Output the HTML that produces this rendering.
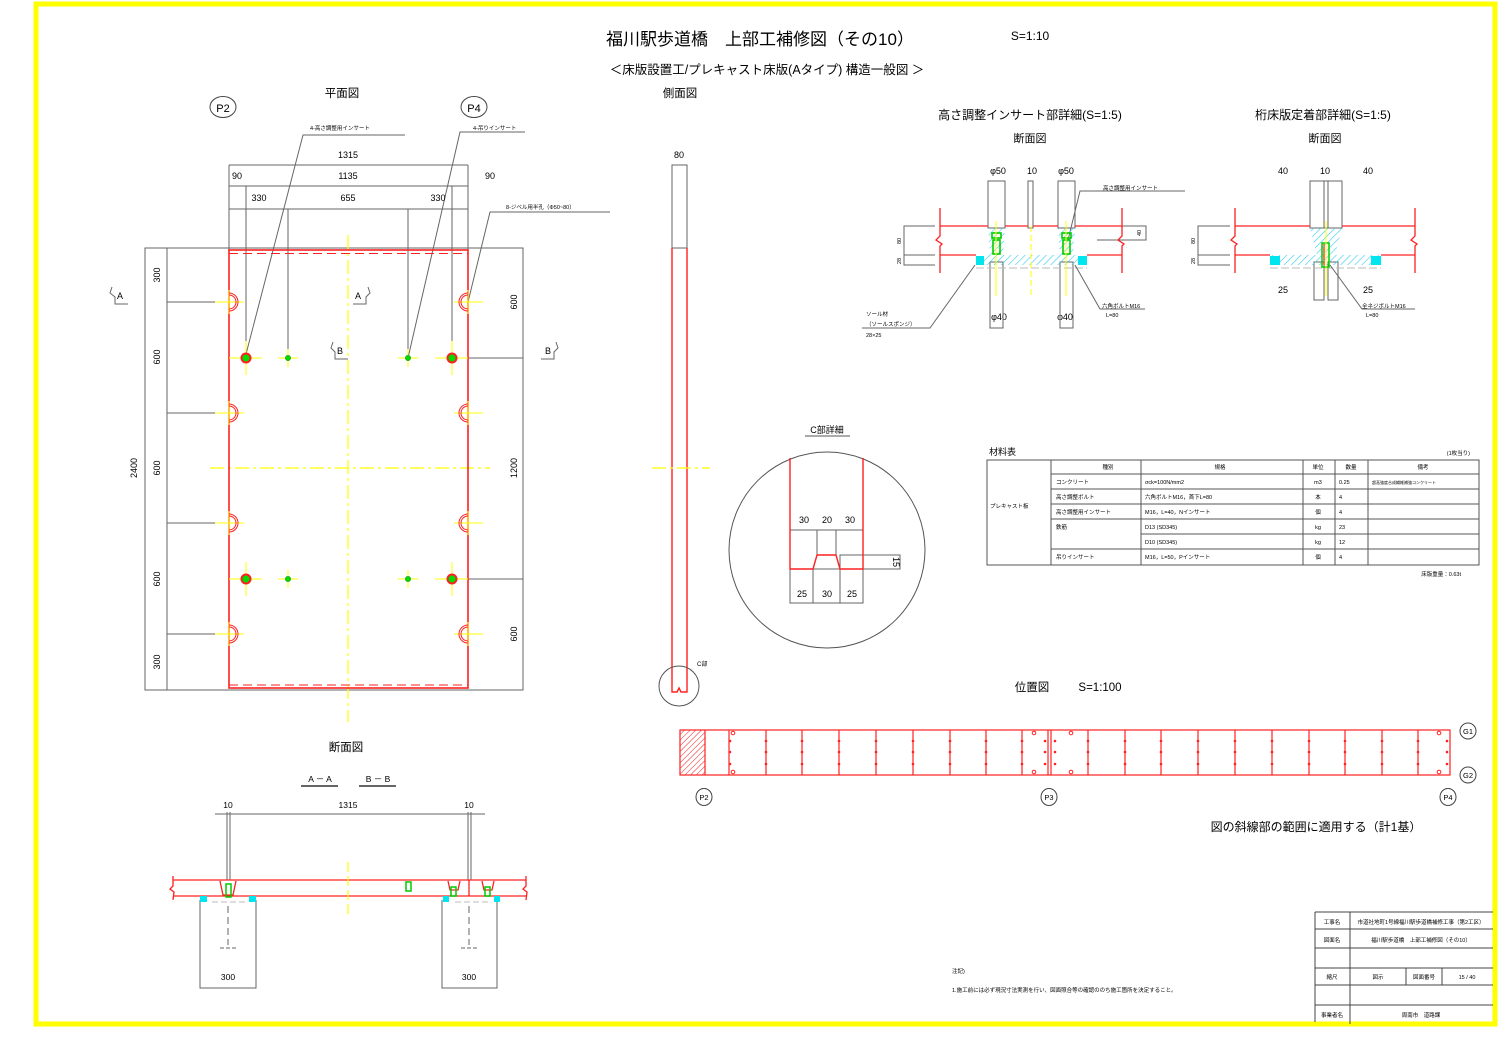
<!DOCTYPE html>
<html><head><meta charset="utf-8"><style>
html,body{margin:0;padding:0;background:#fff}
svg{display:block}
text{font-family:"Liberation Sans","Noto Sans CJK JP",sans-serif;fill:#000}
</style></head><body>
<svg width="1500" height="1061" viewBox="0 0 1500 1061" xmlns="http://www.w3.org/2000/svg">
<defs>
<pattern id="hc" width="5" height="5" patternUnits="userSpaceOnUse" patternTransform="rotate(45)"><line x1="0" y1="0" x2="0" y2="5" stroke="#33ccee" stroke-width="1.2"/></pattern>
<pattern id="hr" width="4" height="4" patternUnits="userSpaceOnUse" patternTransform="rotate(45)"><line x1="0" y1="0" x2="0" y2="4" stroke="#ee2222" stroke-width="1"/></pattern>
</defs>
<rect x="0" y="0" width="1500" height="1061" fill="#fff"/>
<rect x="36" y="4" width="1459" height="1020" fill="none" stroke="#ffff00" stroke-width="5"/>

<text x="760" y="45" font-size="17" text-anchor="middle">福川駅歩道橋　上部工補修図（その10）</text>
<text x="1030" y="40" font-size="12" text-anchor="middle">S=1:10</text>
<text x="767" y="74" font-size="12.5" text-anchor="middle">＜床版設置工/プレキャスト床版(Aタイプ) 構造一般図 ＞</text>

<text x="342" y="97" font-size="11.5" text-anchor="middle">平面図</text>
<ellipse cx="223" cy="107" rx="13" ry="10.5" fill="none" stroke="#444"/>
<text x="223" y="112" font-size="11" text-anchor="middle">P2</text>
<ellipse cx="474" cy="107" rx="13" ry="10.5" fill="none" stroke="#444"/>
<text x="474" y="112" font-size="11" text-anchor="middle">P4</text>
<g stroke="#666" stroke-width="1" fill="none">
<rect x="145" y="248" width="378" height="442"/>
<line x1="167" y1="248" x2="167" y2="690"/>
<line x1="229" y1="165" x2="229" y2="250"/><line x1="468" y1="165" x2="468" y2="250"/>
<line x1="229" y1="165" x2="468" y2="165"/>
<line x1="229" y1="186" x2="468" y2="186"/>
<line x1="229" y1="209" x2="468" y2="209"/>
<line x1="246" y1="186" x2="246" y2="358"/><line x1="452" y1="186" x2="452" y2="358"/>
<line x1="288" y1="209" x2="288" y2="358"/><line x1="408" y1="209" x2="408" y2="358"/>
<line x1="167" y1="302" x2="215" y2="302"/><line x1="167" y1="413" x2="215" y2="413"/>
<line x1="167" y1="523" x2="215" y2="523"/><line x1="167" y1="634" x2="215" y2="634"/>
<line x1="468" y1="358" x2="523" y2="358"/><line x1="468" y1="579" x2="523" y2="579"/>
<polyline points="405,135 303,135 245,358"/>
<polyline points="525,132 460,132 408,358"/>
<polyline points="610,212 490,212 468,302"/>
<polyline points="112,287 110,293 115,297 115,304 128,304"/>
<polyline points="368,287 370,293 366,297 366,304 353,304"/>
<polyline points="333,342 331,348 335,352 335,359 348,359"/>
<polyline points="556,342 558,348 554,352 554,359 541,359"/>
</g>
<g font-size="9" text-anchor="middle">
<text x="348" y="158">1315</text>
<text x="348" y="179">1135</text>
<text x="237" y="179">90</text><text x="490" y="179">90</text>
<text x="259" y="201">330</text><text x="348" y="201">655</text><text x="438" y="201">330</text>
<text x="120" y="299">A</text><text x="358" y="299">A</text>
<text x="340" y="354">B</text><text x="548" y="354">B</text>
<text transform="translate(160,275) rotate(-90)">300</text>
<text transform="translate(160,357) rotate(-90)">600</text>
<text transform="translate(160,468) rotate(-90)">600</text>
<text transform="translate(160,579) rotate(-90)">600</text>
<text transform="translate(160,662) rotate(-90)">300</text>
<text transform="translate(137,468) rotate(-90)">2400</text>
<text transform="translate(517,302) rotate(-90)">600</text>
<text transform="translate(517,468) rotate(-90)">1200</text>
<text transform="translate(517,634) rotate(-90)">600</text>
</g>
<g font-size="5.5"><text x="310" y="130">4-高さ調整用インサート</text><text x="473" y="130">4-吊りインサート</text><text x="506" y="209">8-ジベル用半孔（Φ50~80）</text></g>
<g stroke="#ffff00" stroke-width="1.2" stroke-dasharray="14,4,3,4">
<line x1="348" y1="235" x2="348" y2="722"/>
<line x1="210" y1="468" x2="490" y2="468"/>
</g>
<g stroke="#ff2020" fill="none">
<rect x="229" y="250" width="239" height="438" stroke-width="1.6"/>
<line x1="229" y1="253.5" x2="468" y2="253.5" stroke-dasharray="9,5"/>
<line x1="229" y1="685" x2="468" y2="685" stroke-dasharray="9,5"/>
</g>
<g id="hh">
<g stroke="#ffff00" stroke-width="1"><line x1="215" y1="302" x2="244" y2="302"/><line x1="229" y1="290" x2="229" y2="314"/></g>
<path d="M229,295 A7,7 0 0 1 229,309" fill="none" stroke="#ff2020"/>
<path d="M229,293 A9,9 0 0 1 229,311" fill="none" stroke="#ff2020"/>
</g>
<use href="#hh" y="111"/><use href="#hh" y="221"/><use href="#hh" y="332"/>
<g id="hhr">
<g stroke="#ffff00" stroke-width="1"><line x1="454" y1="302" x2="483" y2="302"/><line x1="468" y1="290" x2="468" y2="314"/></g>
<path d="M468,295 A7,7 0 0 0 468,309" fill="none" stroke="#ff2020"/>
<path d="M468,293 A9,9 0 0 0 468,311" fill="none" stroke="#ff2020"/>
</g>
<use href="#hhr" y="111"/><use href="#hhr" y="221"/><use href="#hhr" y="332"/>
<g id="ins">
<g stroke="#ffff00" stroke-width="1"><line x1="229" y1="358" x2="262" y2="358"/><line x1="246" y1="341" x2="246" y2="375"/>
<line x1="278" y1="358" x2="298" y2="358"/><line x1="288" y1="349" x2="288" y2="367"/>
<line x1="398" y1="358" x2="418" y2="358"/><line x1="408" y1="349" x2="408" y2="367"/>
<line x1="435" y1="358" x2="468" y2="358"/><line x1="452" y1="341" x2="452" y2="375"/></g>
<circle cx="246" cy="358" r="4.5" fill="#00dd00" stroke="#ff2020" stroke-width="2"/>
<circle cx="452" cy="358" r="4.5" fill="#00dd00" stroke="#ff2020" stroke-width="2"/>
<circle cx="288" cy="358" r="2.5" fill="#00dd00" stroke="#22aa22"/>
<circle cx="408" cy="358" r="2.5" fill="#00dd00" stroke="#22aa22"/>
</g>
<use href="#ins" y="221"/>

<text x="680" y="97" font-size="11.5" text-anchor="middle">側面図</text>
<text x="679" y="158" font-size="9" text-anchor="middle">80</text>
<rect x="672" y="165" width="15" height="83" fill="none" stroke="#666"/>
<g stroke="#ff2020" stroke-width="1.4" fill="none">
<polyline points="672,248 672,692 677,692 679,688 681,692 687,692 687,248"/>
</g>
<line x1="652" y1="468" x2="710" y2="468" stroke="#ffff00" stroke-width="1.2" stroke-dasharray="14,4,3,4"/>
<circle cx="679" cy="686" r="20" fill="none" stroke="#555"/>
<text x="697" y="666" font-size="6">C部</text>

<text x="827" y="433" font-size="9" text-anchor="middle">C部詳細</text>
<line x1="805" y1="436" x2="850" y2="436" stroke="#555"/>
<circle cx="827" cy="550" r="98" fill="none" stroke="#555"/>
<g stroke="#666" fill="none">
<rect x="790" y="530" width="73" height="39"/>
<line x1="817" y1="530" x2="817" y2="555"/><line x1="836" y1="530" x2="836" y2="555"/>
<rect x="840" y="555" width="60" height="14"/>
<rect x="790" y="569" width="73" height="34"/>
<line x1="813" y1="569" x2="813" y2="603"/><line x1="840" y1="569" x2="840" y2="603"/>
</g>
<polyline points="790,458 790,569 813,569 817,555 836,555 840,569 863,569 863,458" fill="none" stroke="#ff2020" stroke-width="1.4"/>
<g font-size="9" text-anchor="middle">
<text x="804" y="523">30</text><text x="827" y="523">20</text><text x="850" y="523">30</text>
<text x="802" y="597">25</text><text x="827" y="597">30</text><text x="852" y="597">25</text>
<text transform="translate(893,562) rotate(90)">15</text>
</g>

<text x="1030" y="119" font-size="12" text-anchor="middle">高さ調整インサート部詳細(S=1:5)</text>
<text x="1030" y="142" font-size="11" text-anchor="middle">断面図</text>
<g font-size="9" text-anchor="middle"><text x="998" y="174">φ50</text><text x="1032" y="174">10</text><text x="1066" y="174">φ50</text>
<text x="999" y="320">φ40</text><text x="1065" y="320">φ40</text></g>
<g stroke="#666" fill="none">
<rect x="988" y="181" width="17" height="47"/><rect x="990" y="262" width="13" height="66"/>
<rect x="1058" y="181" width="17" height="47"/><rect x="1060" y="262" width="13" height="66"/>
<rect x="1028" y="181" width="5" height="47"/>
<polyline points="935,226 904,226 904,265 935,265"/><line x1="904" y1="255" x2="935" y2="255"/>
<polyline points="1097,226 1146,226 1146,240 1097,240"/>
<line x1="976" y1="268" x2="1087" y2="268" stroke="#bbb" stroke-dasharray="8,3"/>
<polyline points="1185,191 1080,191 1068,240"/>
<polyline points="1145,309 1100,309 1075,265"/>
<polyline points="862,328 930,328 975,265"/>
</g>
<g stroke="#ff2020" stroke-width="1.3" fill="none">
<line x1="940" y1="226" x2="988" y2="226"/><line x1="1005" y1="226" x2="1028" y2="226"/><line x1="1033" y1="226" x2="1058" y2="226"/><line x1="1075" y1="226" x2="1122" y2="226"/>
<line x1="940" y1="255" x2="976" y2="255"/><line x1="1087" y1="255" x2="1122" y2="255"/>
<polyline points="940,208 940,236 936,240 942,244 940,246 940,273"/>
<polyline points="1122,208 1122,236 1118,240 1124,244 1122,246 1122,273"/>
</g>
<polygon points="988,228 1005,228 1003,255 990,255" fill="url(#hc)"/>
<polygon points="1058,228 1075,228 1073,255 1060,255" fill="url(#hc)"/>
<rect x="984" y="255" width="94" height="10" fill="url(#hc)"/>
<rect x="976" y="256" width="8" height="9" fill="#00e5ee"/><rect x="1078" y="256" width="9" height="9" fill="#00e5ee"/>
<g stroke="#00cc00" stroke-width="1.6" fill="none"><rect x="992" y="233" width="9" height="5"/><rect x="993" y="240" width="7" height="14"/>
<rect x="1062" y="233" width="9" height="5"/><rect x="1063" y="240" width="7" height="14"/></g>
<g stroke="#ffff00" stroke-width="1"><line x1="996" y1="221" x2="996" y2="296"/><line x1="1066" y1="221" x2="1066" y2="296"/><line x1="1031" y1="226" x2="1031" y2="296" stroke-dasharray="6,3"/></g>
<g font-size="5.5"><text x="1103" y="190">高さ調整用インサート</text><text x="1102" y="308">六角ボルトM16</text><text x="1106" y="317">L=80</text>
<text x="866" y="316">ソール材</text><text x="866" y="326">（ソールスポンジ）</text><text x="866" y="337">28×25</text>
<text transform="translate(901,244) rotate(-90)">80</text><text transform="translate(901,264) rotate(-90)">28</text><text transform="translate(1141,236) rotate(-90)">40</text></g>

<text x="1323" y="119" font-size="12" text-anchor="middle">桁床版定着部詳細(S=1:5)</text>
<text x="1325" y="142" font-size="11" text-anchor="middle">断面図</text>
<g font-size="9" text-anchor="middle"><text x="1283" y="174">40</text><text x="1325" y="174">10</text><text x="1368" y="174">40</text>
<text x="1283" y="293">25</text><text x="1368" y="293">25</text></g>
<g stroke="#666" fill="none">
<rect x="1310" y="181" width="32" height="47"/><line x1="1324" y1="181" x2="1324" y2="228"/><line x1="1328" y1="181" x2="1328" y2="228"/>
<rect x="1314" y="262" width="10" height="38"/><rect x="1328" y="262" width="10" height="38"/>
<polyline points="1230,226 1198,226 1198,265 1230,265"/><line x1="1198" y1="255" x2="1230" y2="255"/>
<line x1="1270" y1="268" x2="1381" y2="268" stroke="#bbb" stroke-dasharray="8,3"/>
<polyline points="1415,309 1362,309 1330,265"/>
</g>
<g stroke="#ff2020" stroke-width="1.3" fill="none">
<line x1="1235" y1="226" x2="1310" y2="226"/><line x1="1342" y1="226" x2="1415" y2="226"/>
<line x1="1235" y1="255" x2="1270" y2="255"/><line x1="1381" y1="255" x2="1415" y2="255"/>
<polyline points="1235,208 1235,236 1231,240 1237,244 1235,246 1235,273"/>
<polyline points="1415,208 1415,236 1411,240 1417,244 1415,246 1415,273"/>
<line x1="1324" y1="244" x2="1324" y2="265"/>
</g>
<polygon points="1310,228 1342,228 1335,255 1381,255 1381,265 1270,265 1270,255 1317,255" fill="url(#hc)"/>
<rect x="1270" y="256" width="10" height="9" fill="#00e5ee"/><rect x="1371" y="256" width="10" height="9" fill="#00e5ee"/>
<rect x="1322" y="243" width="7" height="24" fill="none" stroke="#00cc00" stroke-width="1.5"/>
<line x1="1326" y1="221" x2="1326" y2="296" stroke="#ffff00"/>
<g font-size="5.5"><text x="1362" y="308">全ネジボルトM16</text><text x="1366" y="317">L=80</text>
<text transform="translate(1195,244) rotate(-90)">80</text><text transform="translate(1195,264) rotate(-90)">28</text></g>

<text x="989" y="455" font-size="9">材料表</text>
<text x="1470" y="455" font-size="5.5" text-anchor="end">(1枚当り)</text>
<g stroke="#555" fill="none">
<rect x="987" y="460" width="492" height="105"/>
<line x1="1051" y1="460" x2="1051" y2="565"/><line x1="1141" y1="460" x2="1141" y2="565"/>
<line x1="1303" y1="460" x2="1303" y2="565"/><line x1="1335" y1="460" x2="1335" y2="565"/><line x1="1368" y1="460" x2="1368" y2="565"/>
<line x1="1051" y1="474" x2="1479" y2="474"/><line x1="1051" y1="489" x2="1479" y2="489"/><line x1="1051" y1="504" x2="1479" y2="504"/>
<line x1="1051" y1="519" x2="1479" y2="519"/><line x1="1141" y1="534" x2="1479" y2="534"/><line x1="1051" y1="549" x2="1479" y2="549"/>
</g>
<g font-size="5.5">
<text x="1108" y="469" text-anchor="middle">種別</text><text x="1220" y="469" text-anchor="middle">規格</text><text x="1318" y="469" text-anchor="middle">単位</text><text x="1351" y="469" text-anchor="middle">数量</text><text x="1423" y="469" text-anchor="middle">備考</text>
<text x="990" y="508">プレキャスト板</text>
<text x="1056" y="484">コンクリート</text><text x="1145" y="484">σck=100N/mm2</text><text x="1318" y="484" text-anchor="middle">m3</text><text x="1339" y="484">0.25</text><text x="1372" y="484" font-size="4">超高強度合成繊維補強コンクリート</text>
<text x="1056" y="499">高さ調整ボルト</text><text x="1145" y="499">六角ボルトM16，首下L=80</text><text x="1318" y="499" text-anchor="middle">本</text><text x="1339" y="499">4</text>
<text x="1056" y="514">高さ調整用インサート</text><text x="1145" y="514">M16，L=40，Nインサート</text><text x="1318" y="514" text-anchor="middle">個</text><text x="1339" y="514">4</text>
<text x="1056" y="529">鉄筋</text><text x="1145" y="529">D13 (SD345)</text><text x="1318" y="529" text-anchor="middle">kg</text><text x="1339" y="529">23</text>
<text x="1145" y="544">D10 (SD345)</text><text x="1318" y="544" text-anchor="middle">kg</text><text x="1339" y="544">12</text>
<text x="1056" y="559">吊りインサート</text><text x="1145" y="559">M16，L=50，Pインサート</text><text x="1318" y="559" text-anchor="middle">個</text><text x="1339" y="559">4</text>
<text x="1461" y="576" text-anchor="end">床版重量：0.63t</text>
</g>

<text x="1032" y="691" font-size="11.5" text-anchor="middle">位置図</text>
<text x="1100" y="691" font-size="11.5" text-anchor="middle">S=1:100</text>
<rect x="680" y="730" width="25" height="45" fill="url(#hr)"/>
<g stroke="#ff2020" stroke-width="1.2" fill="none">
<rect x="680" y="730" width="770" height="45"/>
<line x1="705" y1="730" x2="705" y2="775"/><line x1="729" y1="730" x2="729" y2="775"/><line x1="766" y1="730" x2="766" y2="775"/>
<line x1="802" y1="730" x2="802" y2="775"/><line x1="839" y1="730" x2="839" y2="775"/><line x1="876" y1="730" x2="876" y2="775"/>
<line x1="913" y1="730" x2="913" y2="775"/><line x1="950" y1="730" x2="950" y2="775"/><line x1="986" y1="730" x2="986" y2="775"/>
<line x1="1022" y1="730" x2="1022" y2="775"/><line x1="1048" y1="730" x2="1048" y2="775"/><line x1="1051" y1="730" x2="1051" y2="775"/>
<line x1="1088" y1="730" x2="1088" y2="775"/><line x1="1125" y1="730" x2="1125" y2="775"/><line x1="1161" y1="730" x2="1161" y2="775"/>
<line x1="1198" y1="730" x2="1198" y2="775"/><line x1="1235" y1="730" x2="1235" y2="775"/><line x1="1272" y1="730" x2="1272" y2="775"/>
<line x1="1309" y1="730" x2="1309" y2="775"/><line x1="1345" y1="730" x2="1345" y2="775"/><line x1="1382" y1="730" x2="1382" y2="775"/>
<line x1="1418" y1="730" x2="1418" y2="775"/>
</g>
<g fill="#ff2020">
<circle cx="730" cy="741" r="1.3"/><circle cx="730" cy="752" r="1.3"/><circle cx="730" cy="764" r="1.3"/>
<circle cx="766" cy="741" r="1.3"/><circle cx="766" cy="752" r="1.3"/><circle cx="766" cy="764" r="1.3"/>
<circle cx="802" cy="741" r="1.3"/><circle cx="802" cy="752" r="1.3"/><circle cx="802" cy="764" r="1.3"/>
<circle cx="839" cy="741" r="1.3"/><circle cx="839" cy="752" r="1.3"/><circle cx="839" cy="764" r="1.3"/>
<circle cx="876" cy="741" r="1.3"/><circle cx="876" cy="752" r="1.3"/><circle cx="876" cy="764" r="1.3"/>
<circle cx="913" cy="741" r="1.3"/><circle cx="913" cy="752" r="1.3"/><circle cx="913" cy="764" r="1.3"/>
<circle cx="950" cy="741" r="1.3"/><circle cx="950" cy="752" r="1.3"/><circle cx="950" cy="764" r="1.3"/>
<circle cx="986" cy="741" r="1.3"/><circle cx="986" cy="752" r="1.3"/><circle cx="986" cy="764" r="1.3"/>
<circle cx="1022" cy="741" r="1.3"/><circle cx="1022" cy="752" r="1.3"/><circle cx="1022" cy="764" r="1.3"/>
<circle cx="1045" cy="741" r="1.3"/><circle cx="1045" cy="752" r="1.3"/><circle cx="1045" cy="764" r="1.3"/>
<circle cx="1055" cy="741" r="1.3"/><circle cx="1055" cy="752" r="1.3"/><circle cx="1055" cy="764" r="1.3"/>
<circle cx="1088" cy="741" r="1.3"/><circle cx="1088" cy="752" r="1.3"/><circle cx="1088" cy="764" r="1.3"/>
<circle cx="1125" cy="741" r="1.3"/><circle cx="1125" cy="752" r="1.3"/><circle cx="1125" cy="764" r="1.3"/>
<circle cx="1161" cy="741" r="1.3"/><circle cx="1161" cy="752" r="1.3"/><circle cx="1161" cy="764" r="1.3"/>
<circle cx="1198" cy="741" r="1.3"/><circle cx="1198" cy="752" r="1.3"/><circle cx="1198" cy="764" r="1.3"/>
<circle cx="1235" cy="741" r="1.3"/><circle cx="1235" cy="752" r="1.3"/><circle cx="1235" cy="764" r="1.3"/>
<circle cx="1272" cy="741" r="1.3"/><circle cx="1272" cy="752" r="1.3"/><circle cx="1272" cy="764" r="1.3"/>
<circle cx="1309" cy="741" r="1.3"/><circle cx="1309" cy="752" r="1.3"/><circle cx="1309" cy="764" r="1.3"/>
<circle cx="1345" cy="741" r="1.3"/><circle cx="1345" cy="752" r="1.3"/><circle cx="1345" cy="764" r="1.3"/>
<circle cx="1382" cy="741" r="1.3"/><circle cx="1382" cy="752" r="1.3"/><circle cx="1382" cy="764" r="1.3"/>
<circle cx="1418" cy="741" r="1.3"/><circle cx="1418" cy="752" r="1.3"/><circle cx="1418" cy="764" r="1.3"/>
<circle cx="1447" cy="741" r="1.3"/><circle cx="1447" cy="752" r="1.3"/><circle cx="1447" cy="764" r="1.3"/>
</g>
<g stroke="#ff2020" fill="none"><circle cx="733" cy="733" r="1.8"/><circle cx="733" cy="772" r="1.8"/><circle cx="1034" cy="733" r="1.8"/><circle cx="1034" cy="772" r="1.8"/>
<circle cx="1071" cy="733" r="1.8"/><circle cx="1071" cy="772" r="1.8"/><circle cx="1439" cy="733" r="1.8"/><circle cx="1439" cy="772" r="1.8"/></g>
<g stroke="#444" fill="none">
<ellipse cx="1468" cy="731" rx="8" ry="8"/><ellipse cx="1468" cy="775" rx="8" ry="8"/>
<ellipse cx="704" cy="797" rx="8" ry="8.5"/><ellipse cx="1049" cy="797" rx="8" ry="8.5"/><ellipse cx="1448" cy="797" rx="8" ry="8.5"/>
</g>
<g font-size="7.5" text-anchor="middle"><text x="1468" y="734">G1</text><text x="1468" y="778">G2</text><text x="704" y="800">P2</text><text x="1049" y="800">P3</text><text x="1448" y="800">P4</text></g>
<text x="1316" y="831" font-size="12" text-anchor="middle">図の斜線部の範囲に適用する（計1基）</text>

<text x="346" y="751" font-size="11.5" text-anchor="middle">断面図</text>
<g font-size="8.5" text-anchor="middle"><text x="320" y="782">A － A</text><text x="378" y="782">B － B</text>
<text x="228" y="808">10</text><text x="348" y="808">1315</text><text x="469" y="808">10</text>
<text x="228" y="980">300</text><text x="469" y="980">300</text></g>
<g stroke="#666" fill="none">
<line x1="301" y1="786" x2="338" y2="786" stroke-width="2"/><line x1="359" y1="786" x2="396" y2="786" stroke-width="2"/>
<line x1="215" y1="814" x2="485" y2="814"/>
<line x1="227" y1="812" x2="227" y2="880"/><line x1="230" y1="812" x2="230" y2="880"/>
<line x1="468" y1="812" x2="468" y2="880"/><line x1="471" y1="812" x2="471" y2="880"/>
<polyline points="200,900 200,988 256,988 256,900"/>
<polyline points="442,900 442,988 497,988 497,900"/>
<line x1="212" y1="902" x2="245" y2="902" stroke="#bbb" stroke-dasharray="6,3"/>
<line x1="455" y1="902" x2="488" y2="902" stroke="#bbb" stroke-dasharray="6,3"/>
<line x1="228" y1="906" x2="228" y2="945" stroke-dasharray="7,4"/><line x1="220" y1="948" x2="236" y2="948" stroke-dasharray="4,2"/>
<line x1="469" y1="906" x2="469" y2="945" stroke-dasharray="7,4"/><line x1="461" y1="948" x2="477" y2="948" stroke-dasharray="4,2"/>
</g>
<g stroke="#ff2020" stroke-width="1.3" fill="none">
<line x1="173" y1="880" x2="526" y2="880"/><line x1="173" y1="896" x2="526" y2="896"/>
<polyline points="173,876 173,886 170,889 174,892 173,900"/>
<polyline points="526,876 526,886 523,889 527,892 526,900"/>
<polyline points="220,881 223,895 233,895 236,881"/>
<polyline points="448,881 450,890 458,890 460,881"/>
<polyline points="482,881 484,890 492,890 494,881"/>
<line x1="469" y1="880" x2="469" y2="896"/>
</g>
<rect x="200" y="896" width="7" height="6" fill="#00e5ee"/><rect x="249" y="896" width="7" height="6" fill="#00e5ee"/>
<rect x="443" y="896" width="6" height="6" fill="#00e5ee"/><rect x="494" y="896" width="6" height="6" fill="#00e5ee"/>
<g stroke="#00cc00" stroke-width="1.5" fill="none"><rect x="226" y="884" width="5" height="13"/><rect x="406" y="882" width="5" height="9"/><rect x="451" y="887" width="5" height="9"/><rect x="485" y="887" width="5" height="9"/></g>
<line x1="348" y1="862" x2="348" y2="915" stroke="#ffff00" stroke-width="1.2" stroke-dasharray="10,4"/>

<g font-size="5.5"><text x="952" y="973">注記)</text><text x="952" y="992">1.施工前には必ず現況寸法実測を行い、図面照合等の確認ののち施工箇所を決定すること。</text></g>

<g stroke="#444" fill="none">
<line x1="1315" y1="912" x2="1315" y2="1022"/>
<line x1="1315" y1="912" x2="1493" y2="912"/><line x1="1315" y1="929" x2="1493" y2="929"/><line x1="1315" y1="948" x2="1493" y2="948"/>
<line x1="1315" y1="968" x2="1493" y2="968"/><line x1="1315" y1="985" x2="1493" y2="985"/><line x1="1315" y1="1005" x2="1493" y2="1005"/>
<line x1="1350" y1="912" x2="1350" y2="1024"/><line x1="1406" y1="968" x2="1406" y2="985"/><line x1="1442" y1="968" x2="1442" y2="985"/>
</g>
<g font-size="5.5" text-anchor="middle">
<text x="1332" y="924">工事名</text><text x="1421" y="924">市道社地町1号線福川駅歩道橋補修工事（第2工区）</text>
<text x="1332" y="942">図面名</text><text x="1421" y="942">福川駅歩道橋　上部工補修図（その10）</text>
<text x="1332" y="979">縮尺</text><text x="1378" y="979">図示</text><text x="1424" y="979">図面番号</text><text x="1467" y="979">15 / 40</text>
<text x="1332" y="1017">事業者名</text><text x="1421" y="1017">周南市　道路課</text>
</g>
</svg>
</body></html>
